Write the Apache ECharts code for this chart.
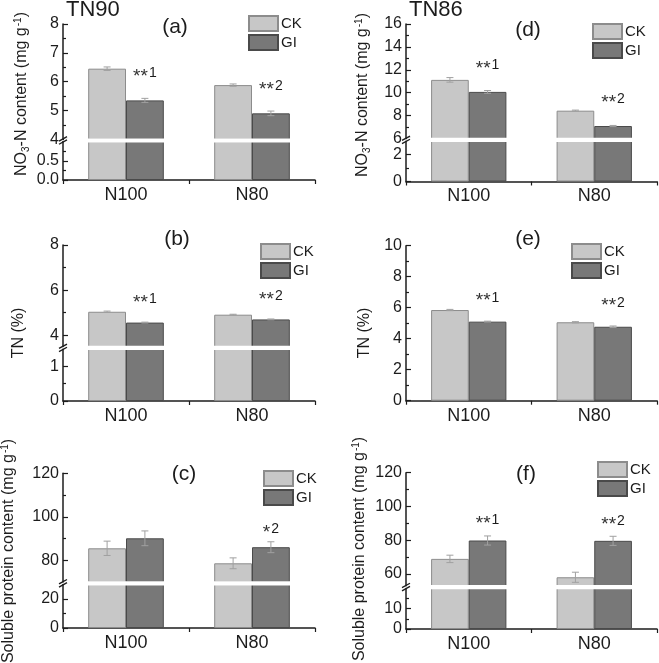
<!DOCTYPE html>
<html><head><meta charset="utf-8">
<script src="https://cdn.jsdelivr.net/npm/echarts@6/dist/echarts.min.js"></script>
<style>html,body{margin:0;padding:0;background:#fff}#c{width:659px;height:663px}</style>
</head><body><div id="c"></div>
<script>
// ---------------- DATA ----------------
const categories = ['N100', 'N80'];
const seriesNames = ['CK', 'GI'];

// (a) TN90, NO3-N content
const a_CK = [6.45, 5.88];
const a_GI = [5.35, 4.90];
const a_CKerr = [0.06, 0.04];
const a_GIerr = [0.07, 0.08];
const a_stars = ['**', '**'];
const a_nums = ['1', '2'];
const a_upRange = [4, 8], a_upTicks = [4, 5, 6, 7, 8], a_upMinor = [4.5, 5.5, 6.5, 7.5];
const a_loRange = [0, 1], a_loTicks = [0, 0.5], a_loMinor = [0.25, 0.75];

// (b) TN90, TN
const b_CK = [5.04, 4.91];
const b_GI = [4.56, 4.70];
const b_CKerr = [0.03, 0.02];
const b_GIerr = [0.02, 0.02];
const b_stars = ['**', '**'];
const b_nums = ['1', '2'];
const b_upRange = [3.5, 8], b_upTicks = [4, 6, 8], b_upMinor = [5, 7];
const b_loRange = [0, 1.5], b_loTicks = [0, 1], b_loMinor = [0.5];

// (c) TN90, soluble protein
const c_CK = [85.5, 78.6];
const c_GI = [90.1, 86.0];
const c_CKerr = [3.3, 2.5];
const c_GIerr = [3.4, 2.5];
const c_stars = ['', '*'];
const c_nums = ['', '2'];
const c_upRange = [70, 120], c_upTicks = [80, 100, 120], c_upMinor = [90, 110];
const c_loRange = [0, 30], c_loTicks = [0, 20], c_loMinor = [10];

// (d) TN86, NO3-N content
const d_CK = [11.12, 8.43];
const d_GI = [10.07, 7.09];
const d_CKerr = [0.2, 0.05];
const d_GIerr = [0.12, 0.05];
const d_stars = ['**', '**'];
const d_nums = ['1', '2'];
const d_upRange = [6, 16], d_upTicks = [6, 8, 10, 12, 14, 16], d_upMinor = [7, 9, 11, 13, 15];
const d_loRange = [0, 3], d_loTicks = [0, 2], d_loMinor = [1];

// (e) TN86, TN
const e_CK = [5.85, 5.06];
const e_GI = [5.10, 4.77];
const e_CKerr = [0.04, 0.04];
const e_GIerr = [0.03, 0.05];
const e_stars = ['**', '**'];
const e_nums = ['1', '2'];
const e_range = [0, 10], e_ticks = [0, 2, 4, 6, 8, 10], e_minor = [1, 3, 5, 7, 9];

// (f) TN86, soluble protein
const f_CK = [68.9, 58.0];
const f_GI = [79.8, 79.6];
const f_CKerr = [2.2, 3.0];
const f_GIerr = [2.7, 2.7];
const f_stars = ['**', '**'];
const f_nums = ['1', '2'];
const f_upRange = [53, 120], f_upTicks = [60, 80, 100, 120], f_upMinor = [70, 90, 110];
const f_loRange = [0, 20], f_loTicks = [0, 10], f_loMinor = [5, 15];

const groupTitles = ['TN90', 'TN86'];
const panelLetters = ['(a)', '(b)', '(c)', '(d)', '(e)', '(f)'];
const yNames = {
  no3: '{t|NO}{sub|3}{t|-N content (mg g}{sup|-1}{t|)}',
  tn: '{t|TN (%)}',
  sp: '{t|Soluble protein content (mg g}{sup|-1}{t|)}'
};

// ---------------- LAYOUT ----------------
const FONT = 'Liberation Sans, Arial, Helvetica, sans-serif';
const INK = '#1c1c1c';
const panels = [
  { ck: a_CK, gi: a_GI, ckErr: a_CKerr, giErr: a_GIerr, stars: a_stars, nums: a_nums, name: 'no3', letter: 0,
    left: 63, width: 252, letterPos: [175, 28], legendPos: [248, 15], namePos: [22, 94], sigDist: 14,
    segs: [{ range: a_upRange, ticks: a_upTicks, minor: a_upMinor, dec: 0, top: 24, bottom: 139.3 },
           { range: a_loRange, ticks: a_loTicks, minor: a_loMinor, dec: 1, top: 141.6, bottom: 180 }] },
  { ck: b_CK, gi: b_GI, ckErr: b_CKerr, giErr: b_GIerr, stars: b_stars, nums: b_nums, name: 'tn', letter: 1,
    left: 63, width: 252, letterPos: [177, 240], legendPos: [260, 243], namePos: [19, 333], sigDist: 10,
    segs: [{ range: b_upRange, ticks: b_upTicks, minor: b_upMinor, dec: 0, top: 245, bottom: 346.5 },
           { range: b_loRange, ticks: b_loTicks, minor: b_loMinor, dec: 0, top: 349.2, bottom: 401 }] },
  { ck: c_CK, gi: c_GI, ckErr: c_CKerr, giErr: c_GIerr, stars: c_stars, nums: c_nums, name: 'sp', letter: 2,
    left: 63, width: 252, letterPos: [184, 475], legendPos: [263, 470], namePos: [9, 551], sigDist: 5,
    segs: [{ range: c_upRange, ticks: c_upTicks, minor: c_upMinor, dec: 0, top: 473.3, bottom: 582 },
           { range: c_loRange, ticks: c_loTicks, minor: c_loMinor, dec: 0, top: 584.6, bottom: 628 }] },
  { ck: d_CK, gi: d_GI, ckErr: d_CKerr, giErr: d_GIerr, stars: d_stars, nums: d_nums, name: 'no3', letter: 3,
    left: 406, width: 251, letterPos: [528, 31], legendPos: [592, 23], namePos: [363, 95], sigDist: 14,
    segs: [{ range: d_upRange, ticks: d_upTicks, minor: d_upMinor, dec: 0, top: 24, bottom: 138.5 },
           { range: d_loRange, ticks: d_loTicks, minor: d_loMinor, dec: 0, top: 141.2, bottom: 181.5 }] },
  { ck: e_CK, gi: e_GI, ckErr: e_CKerr, giErr: e_GIerr, stars: e_stars, nums: e_nums, name: 'tn', letter: 4,
    left: 406, width: 251, letterPos: [528, 240], legendPos: [571, 243], namePos: [365, 333], sigDist: 11,
    segs: [{ range: e_range, ticks: e_ticks, minor: e_minor, dec: 0, top: 245.7, bottom: 400.7 }] },
  { ck: f_CK, gi: f_GI, ckErr: f_CKerr, giErr: f_GIerr, stars: f_stars, nums: f_nums, name: 'sp', letter: 5,
    left: 406, width: 251, letterPos: [526, 475], legendPos: [597, 461], namePos: [360, 549], sigDist: 7,
    segs: [{ range: f_upRange, ticks: f_upTicks, minor: f_upMinor, dec: 0, top: 472.7, bottom: 585.7 },
           { range: f_loRange, ticks: f_loTicks, minor: f_loMinor, dec: 0, top: 588.4, bottom: 629 }] }
];

const CK_STYLE = { color: '#c7c7c7', borderColor: '#8c8c8c', borderWidth: 1 };
const GI_STYLE = { color: '#787878', borderColor: '#4a4a4a', borderWidth: 1 };
const BAR_OFFSET = 0.15; // half of one bar width, as fraction of category band

function errRender(params, api) {
  const i = api.value(0), v = api.value(1), e = api.value(2), off = api.value(3);
  const band = api.size([1, 0])[0];
  const x = api.coord([i, v])[0] + off * band;
  const yh = api.coord([i, v + e])[1], yl = api.coord([i, v - e])[1];
  const w = 3.5;
  const st = { stroke: '#a0a0a0', lineWidth: 1 };
  return { type: 'group', children: [
    { type: 'line', shape: { x1: x, y1: yh, x2: x, y2: yl }, style: st },
    { type: 'line', shape: { x1: x - w, y1: yh, x2: x + w, y2: yh }, style: st },
    { type: 'line', shape: { x1: x - w, y1: yl, x2: x + w, y2: yl }, style: st }
  ] };
}

const grid = [], xAxis = [], yAxis = [], series = [], legend = [], title = [], graphic = [];
const breaks = [];

graphic.push({ type: 'text', x: 66, y: -1, silent: true, style: { text: groupTitles[0], fontSize: 22, fill: INK, fontFamily: FONT, verticalAlign: 'top', align: 'left' } });
graphic.push({ type: 'text', x: 409, y: -1, silent: true, style: { text: groupTitles[1], fontSize: 22, fill: INK, fontFamily: FONT, verticalAlign: 'top', align: 'left' } });

panels.forEach(p => {
  const segIdx = [];
  p.segs.forEach((s, si) => {
    const gi = grid.length;
    const isTop = si === 0, isBottom = si === p.segs.length - 1;
    grid.push({ left: p.left, width: p.width, top: s.top, height: s.bottom - s.top, containLabel: false });
    const xi = xAxis.length;
    xAxis.push({
      type: 'category', gridIndex: gi, data: categories,
      axisLine: { show: isBottom, onZero: false, lineStyle: { color: INK, width: 1.5 } },
      axisTick: { show: isBottom, inside: false, length: 4, lineStyle: { color: INK, width: 1.2 } },
      axisLabel: { show: isBottom, fontSize: 18, color: INK, fontFamily: FONT, margin: 6 },
      splitLine: { show: false }
    });
    const yi = yAxis.length;
    yAxis.push({
      type: 'value', gridIndex: gi, min: s.range[0], max: s.range[1], position: 'left',
      axisLine: { show: true, onZero: false, lineStyle: { color: INK, width: 1.5 } },
      axisTick: { show: true, inside: true, length: 5, customValues: s.ticks, lineStyle: { color: INK, width: 1.2 } },
      axisLabel: { show: true, customValues: s.ticks, formatter: v => Number(v).toFixed(s.dec), fontSize: 16, color: INK, fontFamily: FONT, margin: 4 },
      splitLine: { show: false }
    });
    yAxis.push({
      type: 'value', gridIndex: gi, min: s.range[0], max: s.range[1], position: 'left', offset: 0,
      axisLine: { show: false, onZero: false },
      axisTick: { show: true, inside: true, length: 3, customValues: s.minor, lineStyle: { color: INK, width: 1.2 } },
      axisLabel: { show: false },
      splitLine: { show: false }
    });
    segIdx.push({ yi, xi, gi });
    const barCommon = { type: 'bar', xAxisIndex: xi, yAxisIndex: yi, barCategoryGap: '40%', barGap: '0%', clip: true };
    series.push(Object.assign({}, barCommon, { name: seriesNames[0], data: p.ck, itemStyle: CK_STYLE }));
    const giSeries = Object.assign({}, barCommon, { name: seriesNames[1], data: p.gi, itemStyle: GI_STYLE });
    if (isTop) {
      giSeries.label = {
        show: true, position: 'top', distance: p.sigDist,
        formatter: prm => p.stars[prm.dataIndex] ? '{s|' + p.stars[prm.dataIndex] + '}{n|' + p.nums[prm.dataIndex] + '}' : '',
        rich: {
          s: { fontSize: 19, color: '#333', fontFamily: FONT, verticalAlign: 'bottom' },
          n: { fontSize: 14, color: INK, fontFamily: FONT, verticalAlign: 'top', padding: [0, 0, 6, 1] }
        }
      };
      series.push(giSeries);
      series.push({ type: 'custom', xAxisIndex: xi, yAxisIndex: yi, z: 5, silent: true, renderItem: errRender, encode: { x: 0, y: 1 },
        data: categories.map((c, i) => [i, p.ck[i], p.ckErr[i], -BAR_OFFSET]) });
      series.push({ type: 'custom', xAxisIndex: xi, yAxisIndex: yi, z: 5, silent: true, renderItem: errRender, encode: { x: 0, y: 1 },
        data: categories.map((c, i) => [i, p.gi[i], p.giErr[i], BAR_OFFSET]) });
    } else {
      series.push(giSeries);
    }
  });
  if (p.segs.length === 2) breaks.push({ p, up: segIdx[0], lo: segIdx[1] });

  legend.push({
    data: seriesNames, orient: 'vertical', left: p.legendPos[0], top: p.legendPos[1], padding: 0,
    icon: 'rect', itemWidth: 29, itemHeight: 15, itemGap: 2,
    textStyle: { fontSize: 15, color: INK, fontFamily: FONT, padding: [0, 0, 0, -2] }
  });
  title.push({ text: panelLetters[p.letter], left: p.letterPos[0], top: p.letterPos[1] - 11, textAlign: 'center', padding: 0,
    textStyle: { fontSize: 21, fontWeight: 'normal', color: INK, fontFamily: FONT } });
  graphic.push({
    type: 'text', x: p.namePos[0], y: p.namePos[1], rotation: Math.PI / 2, silent: true,
    style: {
      text: yNames[p.name], align: 'center', verticalAlign: 'middle',
      rich: {
        t: { fontSize: 16, fill: INK, fontFamily: FONT },
        sub: { fontSize: 10, fill: INK, fontFamily: FONT, verticalAlign: 'bottom', padding: [6, 0, 0, 0] },
        sup: { fontSize: 10, fill: INK, fontFamily: FONT, verticalAlign: 'top', padding: [0, 0, 8, 1] }
      }
    }
  });
});

const chart = echarts.init(document.getElementById('c'), null, { renderer: 'canvas' });
chart.setOption({
  animation: false,
  backgroundColor: '#ffffff',
  textStyle: { fontFamily: FONT },
  title, legend, grid, xAxis, yAxis, series, graphic
});

// white break band and axis break marks on broken y axes
const breakGraphics = [];
breaks.forEach(b => {
  const yUp = chart.convertToPixel({ yAxisIndex: b.up.yi }, b.p.segs[0].range[0]);
  const yLo = chart.convertToPixel({ yAxisIndex: b.lo.yi }, b.p.segs[1].range[1]);
  const mid = (yUp + yLo) / 2;
  const x = b.p.left;
  breakGraphics.push({ type: 'rect', silent: true, z: 90,
    shape: { x: x + 1, y: yUp - 0.8, width: b.p.width, height: (yLo - yUp) + 1.6 },
    style: { fill: '#ffffff' } });
  [-1.6, 1.6].forEach(d => {
    breakGraphics.push({ type: 'line', silent: true, z: 100,
      shape: { x1: x - 4, y1: mid + d + 2.2, x2: x + 4, y2: mid + d - 2.2 },
      style: { stroke: INK, lineWidth: 1.4 } });
  });
});
chart.setOption({ graphic: graphic.concat(breakGraphics) });
</script>
</body></html>
